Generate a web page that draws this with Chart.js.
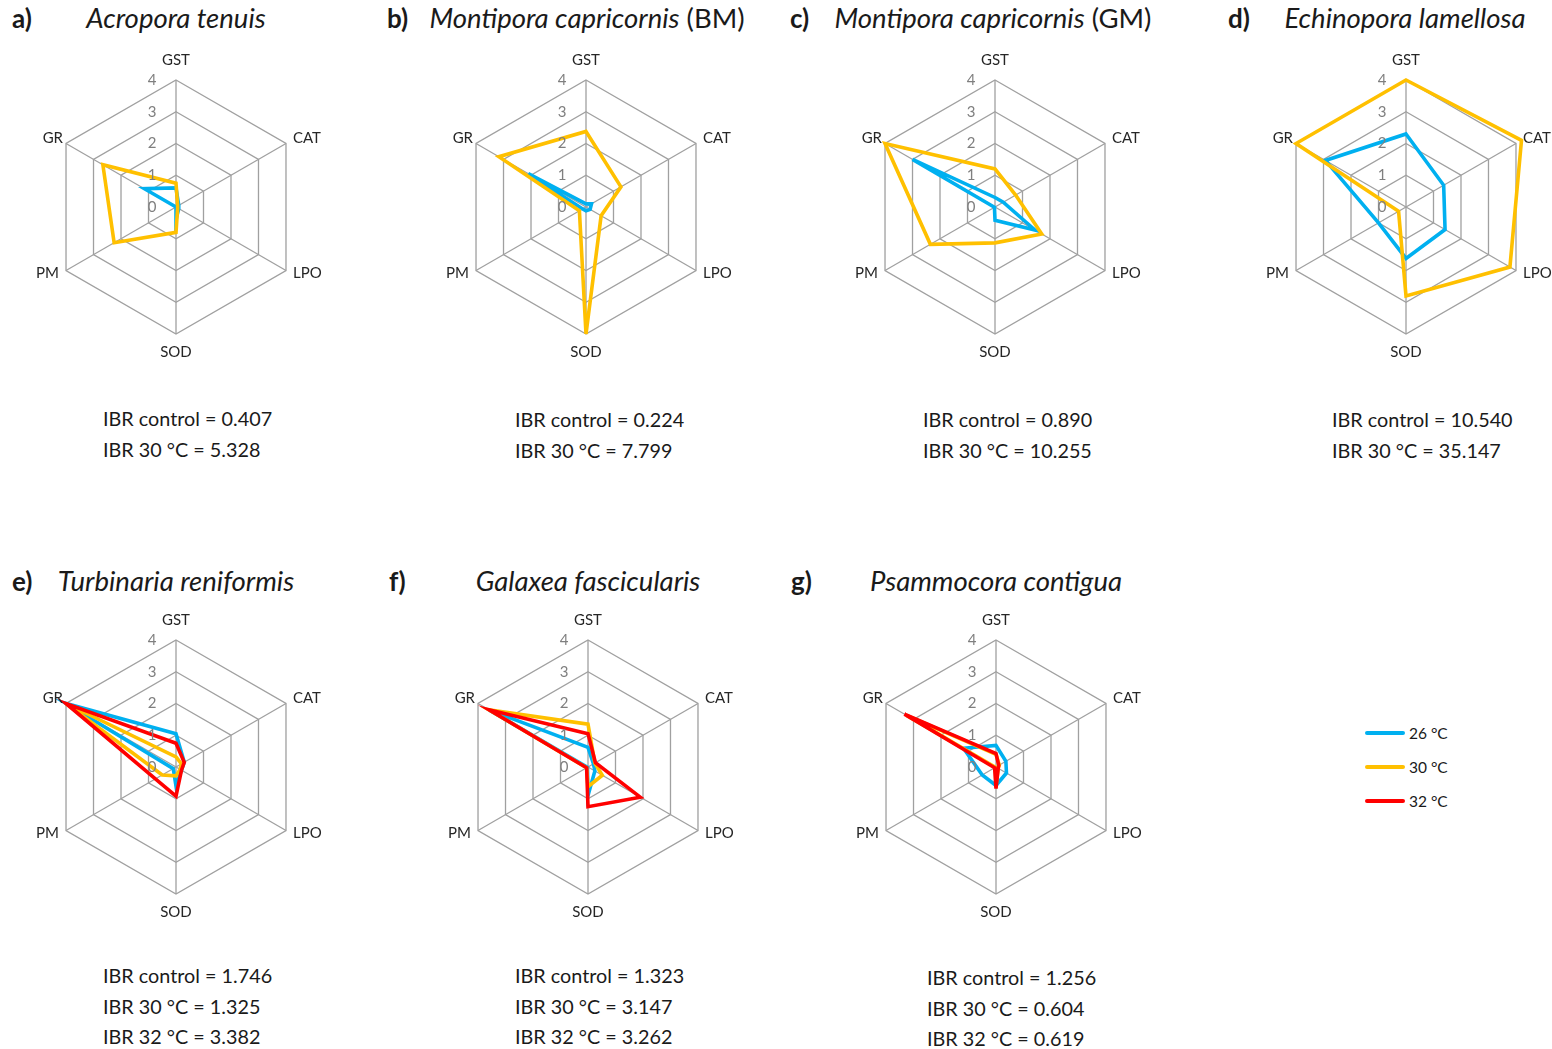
<!DOCTYPE html>
<html>
<head>
<meta charset="utf-8">
<script src="https://cdn.jsdelivr.net/npm/chart.js@4/dist/chart.umd.min.js"></script>
<style>
  html, body { margin: 0; padding: 0; background: #fff; }
  body { width: 1552px; height: 1049px; position: relative; overflow: hidden; font-family: Lato, "Open Sans", sans-serif; color: #1a1a1a; }
  .panel { position: absolute; }
  .tag { position: absolute; font-weight: bold; font-size: 26px; line-height: 30px; }
  .title { position: absolute; font-size: 27.5px; line-height: 30px; white-space: nowrap; transform: translateX(-50%); }
  .title i { font-style: italic; }
  .ibr { position: absolute; font-size: 19.8px; line-height: 22px; white-space: nowrap; }
  .leg { position: absolute; font-size: 15.5px; line-height: 18px; white-space: nowrap; }
  .legline { position: absolute; height: 4px; width: 40px; border-radius: 2px; }
</style>
</head>
<body>
<script>
// Radar axes and scale ticks
const axisLabels = ['GST', 'CAT', 'LPO', 'SOD', 'PM', 'GR'];
const tickValues = [0, 1, 2, 3, 4];

// Series legend
const seriesNames = ['26 °C', '30 °C', '32 °C'];
const seriesColors = ['#00B0F0', '#FFC000', '#FF0000'];

// Standardised biomarker scores per species (order follows axisLabels)
const a26 = [0.60, 0.10, 0.10, 0.40, 0.00, 1.15];
const a30 = [0.75, 0.06, 0.06, 0.80, 2.25, 2.66];
const b26 = [0.10, 0.20, 0.15, 0.12, 0.12, 2.10];
const b30 = [2.38, 1.27, 0.55, 4.00, 0.24, 3.17];
const c26 = [0.30, 0.30, 1.45, 0.42, 0.02, 3.00];
const c30 = [1.20, 0.75, 1.70, 1.13, 2.35, 4.00];
const d26 = [2.30, 1.37, 1.42, 1.62, 1.00, 2.93];
const d30 = [4.00, 4.20, 3.78, 2.80, 0.27, 4.00];
const e26 = [1.05, 0.30, 0.20, 0.60, 0.10, 4.00];
const e30 = [0.32, 0.20, 0.15, 0.28, 0.50, 4.00];
const e32 = [0.75, 0.30, 0.20, 0.92, 0.75, 4.00];
const f26 = [0.62, 0.20, 0.25, 0.90, 0.02, 3.60];
const f30 = [1.35, 0.25, 0.52, 0.62, 0.05, 3.60];
const f32 = [1.05, 0.27, 1.90, 1.25, 0.05, 3.60];
const g26 = [0.68, 0.36, 0.38, 0.58, 0.50, 1.18];
const g30 = [0.40, 0.12, 0.08, 0.60, 0.02, 3.25];
const g32 = [0.42, 0.10, 0.08, 0.68, 0.05, 3.33];

// Panel tags, species names and IBR summaries
const panelTags = ['a)', 'b)', 'c)', 'd)', 'e)', 'f)', 'g)'];
const speciesNames = ['Acropora tenuis', 'Montipora capricornis', 'Montipora capricornis', 'Echinopora lamellosa',
                      'Turbinaria reniformis', 'Galaxea fascicularis', 'Psammocora contigua'];
const speciesSuffix = ['', ' (BM)', ' (GM)', '', '', '', ''];
const ibrLines = [
  ['IBR control = 0.407', 'IBR 30 °C = 5.328'],
  ['IBR control = 0.224', 'IBR 30 °C = 7.799'],
  ['IBR control = 0.890', 'IBR 30 °C = 10.255'],
  ['IBR control = 10.540', 'IBR 30 °C = 35.147'],
  ['IBR control = 1.746', 'IBR 30 °C = 1.325', 'IBR 32 °C = 3.382'],
  ['IBR control = 1.323', 'IBR 30 °C = 3.147', 'IBR 32 °C = 3.262'],
  ['IBR control = 1.256', 'IBR 30 °C = 0.604', 'IBR 32 °C = 0.619']
];
const panelSeries = [[a26, a30], [b26, b30], [c26, c30], [d26, d30], [e26, e30, e32], [f26, f30, f32], [g26, g30, g32]];

// Layout of the panels on the page
const layout = [
  { cx: 176, cy: 207, tagX: 12,  tagY: 18,  ibrX: 103,  ibrY: 418 },
  { cx: 586, cy: 207, tagX: 387, tagY: 18,  ibrX: 515,  ibrY: 419 },
  { cx: 995, cy: 207, tagX: 790, tagY: 18,  ibrX: 923,  ibrY: 419 },
  { cx: 1406, cy: 207, tagX: 1228, tagY: 18, ibrX: 1332, ibrY: 419 },
  { cx: 176, cy: 767, tagX: 12,  tagY: 581, ibrX: 103,  ibrY: 975 },
  { cx: 588, cy: 767, tagX: 389, tagY: 581, ibrX: 515,  ibrY: 975 },
  { cx: 996, cy: 767, tagX: 791, tagY: 581, ibrX: 927,  ibrY: 977 }
];
const titleCenters = [176, 587, 993, 1405, 176, 588, 996];

// Offsets of axis names from the outer hexagon vertices
const pointLabelOffsets = [
  { dx: 0,  dy: -20, align: 'center' },
  { dx: 7,  dy: -5,  align: 'left' },
  { dx: 7,  dy: 3,   align: 'left' },
  { dx: 0,  dy: 18,  align: 'center' },
  { dx: -7, dy: 3,   align: 'right' },
  { dx: -3, dy: -5,  align: 'right' }
];

// Draws axis names and the 0..4 tick column left of the GST axis
const radarLabels = {
  id: 'radarLabels',
  afterDraw(chart) {
    const r = chart.scales.r;
    const ctx = chart.ctx;
    ctx.save();
    ctx.textBaseline = 'middle';
    ctx.font = '15px Lato, "Open Sans", sans-serif';
    ctx.fillStyle = '#262626';
    axisLabels.forEach((lab, i) => {
      const p = r.getPointPosition(i, r.drawingArea);
      const o = pointLabelOffsets[i];
      ctx.textAlign = o.align;
      ctx.fillText(lab, p.x + o.dx, p.y + o.dy);
    });
    ctx.fillStyle = '#7f7f7f';
    ctx.textAlign = 'center';
    ctx.font = '15px Lato, "Open Sans", sans-serif';
    tickValues.forEach(v => {
      const d = r.getDistanceFromCenterForValue(v);
      ctx.fillText(String(v), r.xCenter - 24, r.yCenter - d);
    });
    ctx.restore();
  }
};

const SIZE = 320;
const HALF = SIZE / 2;
const R = 127.5;

layout.forEach((L, k) => {
  const wrap = document.createElement('div');
  wrap.className = 'panel';
  wrap.style.left = (L.cx - HALF) + 'px';
  wrap.style.top = (L.cy - HALF) + 'px';
  wrap.style.width = SIZE + 'px';
  wrap.style.height = SIZE + 'px';
  const cv = document.createElement('canvas');
  cv.width = SIZE; cv.height = SIZE;
  wrap.appendChild(cv);
  document.body.appendChild(wrap);

  // later series (warmer) are drawn on top
  const n = panelSeries[k].length;
  const datasets = panelSeries[k].map((vals, s) => ({
    label: seriesNames[s],
    data: vals,
    order: n - s,
    borderColor: seriesColors[s],
    backgroundColor: 'transparent',
    borderWidth: 3.6,
    pointRadius: 0,
    pointHoverRadius: 0,
    fill: false,
    clip: false
  }));

  new Chart(cv, {
    type: 'radar',
    data: { labels: axisLabels, datasets },
    options: {
      responsive: false,
      animation: false,
      events: [],
      layout: { padding: HALF - R },
      plugins: { legend: { display: false }, tooltip: { enabled: false } },
      scales: {
        r: {
          min: 0, max: 4,
          ticks: { display: false, stepSize: 1 },
          pointLabels: { display: false },
          grid: { color: '#a0a0a0', lineWidth: 1.3 },
          angleLines: { color: '#a0a0a0', lineWidth: 1.3 }
        }
      }
    },
    plugins: [radarLabels]
  });

  // panel tag and title
  const tag = document.createElement('div');
  tag.className = 'tag';
  tag.textContent = panelTags[k];
  tag.style.left = L.tagX + 'px';
  tag.style.top = (L.tagY - 15) + 'px';
  document.body.appendChild(tag);

  const title = document.createElement('div');
  title.className = 'title';
  const it = document.createElement('i');
  it.textContent = speciesNames[k];
  title.appendChild(it);
  if (speciesSuffix[k]) title.appendChild(document.createTextNode(speciesSuffix[k]));
  title.style.left = titleCenters[k] + 'px';
  title.style.top = (L.tagY - 15) + 'px';
  document.body.appendChild(title);

  // IBR summary lines
  ibrLines[k].forEach((t, j) => {
    const d = document.createElement('div');
    d.className = 'ibr';
    d.textContent = t;
    d.style.left = L.ibrX + 'px';
    d.style.top = (L.ibrY + j * 30.5 - 11) + 'px';
    document.body.appendChild(d);
  });
});

// Legend
seriesNames.forEach((name, s) => {
  const y = 733 + s * 34;
  const ln = document.createElement('div');
  ln.className = 'legline';
  ln.style.left = '1365px';
  ln.style.top = (y - 2) + 'px';
  ln.style.background = seriesColors[s];
  document.body.appendChild(ln);
  const tx = document.createElement('div');
  tx.className = 'leg';
  tx.textContent = name;
  tx.style.left = '1409px';
  tx.style.top = (y - 9) + 'px';
  document.body.appendChild(tx);
});
</script>
</body>
</html>
